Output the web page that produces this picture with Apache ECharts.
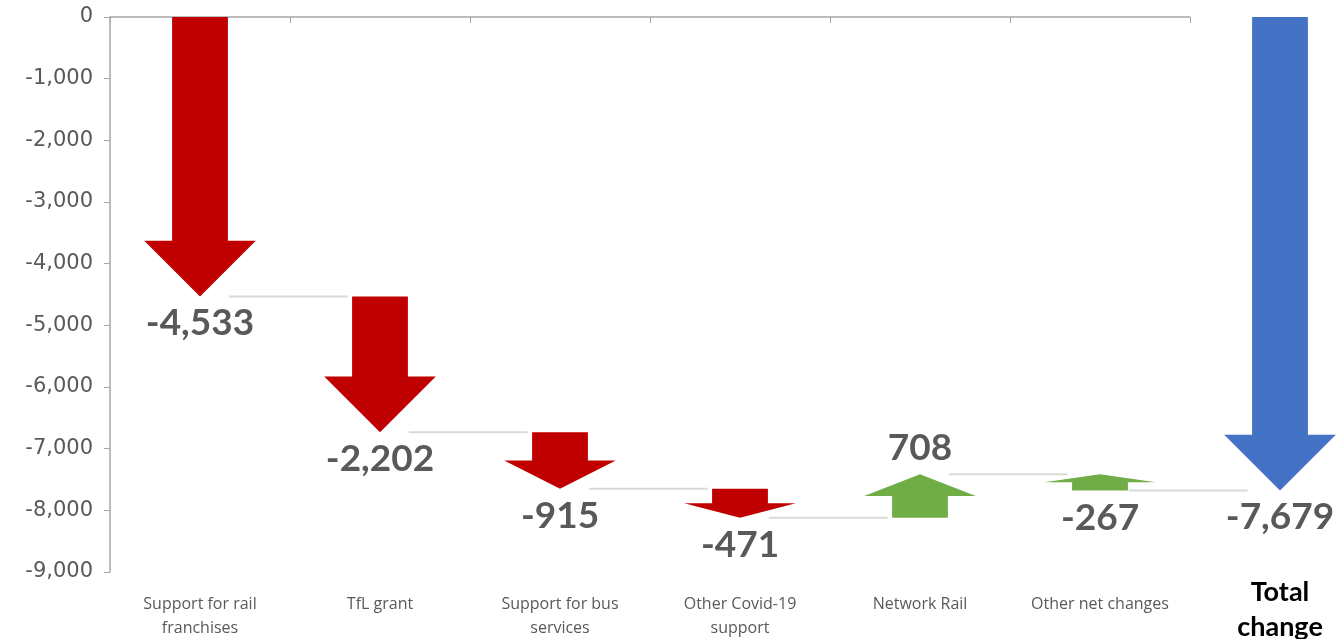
<!DOCTYPE html>
<html>
<head>
<meta charset="utf-8">
<script src="https://cdn.jsdelivr.net/npm/echarts@6/dist/echarts.min.js"></script>
<style>
  html, body { margin: 0; padding: 0; background: #ffffff; }
  #chart { width: 1338px; height: 639px; }
</style>
</head>
<body>
<div id="chart"></div>
<script>
// ---- data ----
const categories = ['Support for rail\nfranchises', 'TfL grant', 'Support for bus\nservices', 'Other Covid-19\nsupport', 'Network Rail', 'Other net changes', 'Total\nchange'];
const changes = [-4533, -2202, -915, -471, 708, -267, -7679];
const arrowPointsUp = [false, false, false, false, true, true, false];
const isTotal = [false, false, false, false, false, false, true];
const yMin = -9000, yMax = 0, yStep = 1000;

// ---- build waterfall rows: [index, start, end, value, up, total] ----
const arrowRows = [];
const connectorRows = [];
let running = 0;
changes.forEach((v, i) => {
  let start, end;
  if (isTotal[i]) { start = 0; end = v; }
  else { start = running; end = running + v; running = end; }
  arrowRows.push([i, start, end, v, arrowPointsUp[i] ? 1 : 0, isTotal[i] ? 1 : 0]);
  if (i < changes.length - 1) connectorRows.push([i, running]);
});

const RED = '#C00000', GREEN = '#70AD47', BLUE = '#4472C4';
const LABEL_GREY = '#595959';

function renderArrow(params, api) {
  const i = api.value(0), a = api.value(1), b = api.value(2), v = api.value(3);
  const up = api.value(4) === 1, tot = api.value(5) === 1;
  const hi = Math.max(a, b), lo = Math.min(a, b);
  const pTop = api.coord([i, hi]);
  const pBot = api.coord([i, lo]);
  const cw = api.size([1, 0])[0];
  const x = pTop[0], top = pTop[1], bot = pBot[1];
  const bw = cw * 0.31 / 2, hw = cw * 0.62 / 2;
  const len = bot - top;
  const hl = Math.min(cw * 0.31, len * 0.5);
  let pts;
  if (!up) {
    pts = [[x - bw, top], [x + bw, top], [x + bw, bot - hl], [x + hw, bot - hl], [x, bot], [x - hw, bot - hl], [x - bw, bot - hl]];
  } else {
    pts = [[x, top], [x + hw, top + hl], [x + bw, top + hl], [x + bw, bot], [x - bw, bot], [x - bw, top + hl], [x - hw, top + hl]];
  }
  const color = tot ? BLUE : (up ? GREEN : RED);
  const ly = v < 0 ? bot + 27 : top - 26;
  return {
    type: 'group',
    children: [
      { type: 'polygon', shape: { points: pts }, style: { fill: color } },
      { type: 'text', x: x, y: ly, style: {
          text: v.toLocaleString('en-US'), fill: LABEL_GREY,
          font: 'bold 37px Lato, "Open Sans", sans-serif', align: 'center', verticalAlign: 'middle' } }
    ]
  };
}

function renderConnector(params, api) {
  const i = api.value(0), lvl = api.value(1);
  const cw = api.size([1, 0])[0];
  const p1 = api.coord([i, lvl]);
  const p2 = api.coord([i + 1, lvl]);
  return {
    type: 'line',
    shape: { x1: p1[0] + cw * 0.16, y1: p1[1], x2: p2[0] - cw * 0.18, y2: p2[1] },
    style: { stroke: '#d9d9d9', lineWidth: 2 }
  };
}

const chart = echarts.init(document.getElementById('chart'), null, { renderer: 'canvas' });
chart.setOption({
  backgroundColor: '#ffffff',
  animation: false,
  grid: [
    { left: 110, right: -32, top: 17, bottom: 67, containLabel: false, outerBoundsMode: 'none' },
    { left: 110, right: 148, top: 17, bottom: 67, containLabel: false, outerBoundsMode: 'none' }
  ],
  xAxis: [
    {
      type: 'category', gridIndex: 0, data: categories,
      axisLine: { show: false }, axisTick: { show: false },
      axisLabel: {
        interval: 0, margin: 3,
        formatter: (val, idx) => (idx === categories.length - 1 ? val : ''),
        color: '#000000', fontSize: 27, fontWeight: 'bold', lineHeight: 35,
        fontFamily: 'Lato, "Open Sans", sans-serif'
      }
    },
    {
      type: 'category', gridIndex: 1, data: categories.slice(0, 6),
      axisLine: { show: true, lineStyle: { color: '#a6a6a6', width: 1.5 } },
      axisTick: { show: true, length: 6, lineStyle: { color: '#a6a6a6' } },
      axisLabel: {
        interval: 0, margin: 20, color: LABEL_GREY, fontSize: 16, lineHeight: 24,
        fontFamily: '"Open Sans", sans-serif'
      }
    }
  ],
  yAxis: [
    {
      type: 'value', gridIndex: 0, min: yMin, max: yMax, interval: yStep,
      axisLine: { show: true, lineStyle: { color: '#a6a6a6', width: 1.5 } },
      axisTick: { show: true, length: 6, lineStyle: { color: '#a6a6a6' } },
      splitLine: { show: false },
      axisLabel: {
        margin: 17, color: LABEL_GREY, fontSize: 21, fontFamily: '"DejaVu Sans", sans-serif',
        formatter: v => v.toLocaleString('en-US')
      }
    },
    { type: 'value', gridIndex: 1, min: yMin, max: yMax, interval: yStep, show: false }
  ],
  series: [
    { type: 'custom', xAxisIndex: 0, yAxisIndex: 0, renderItem: renderConnector, data: connectorRows, clip: false, silent: true, z: 1 },
    { type: 'custom', xAxisIndex: 0, yAxisIndex: 0, renderItem: renderArrow, data: arrowRows, clip: false, silent: true, z: 2 }
  ]
});
</script>
</body>
</html>
